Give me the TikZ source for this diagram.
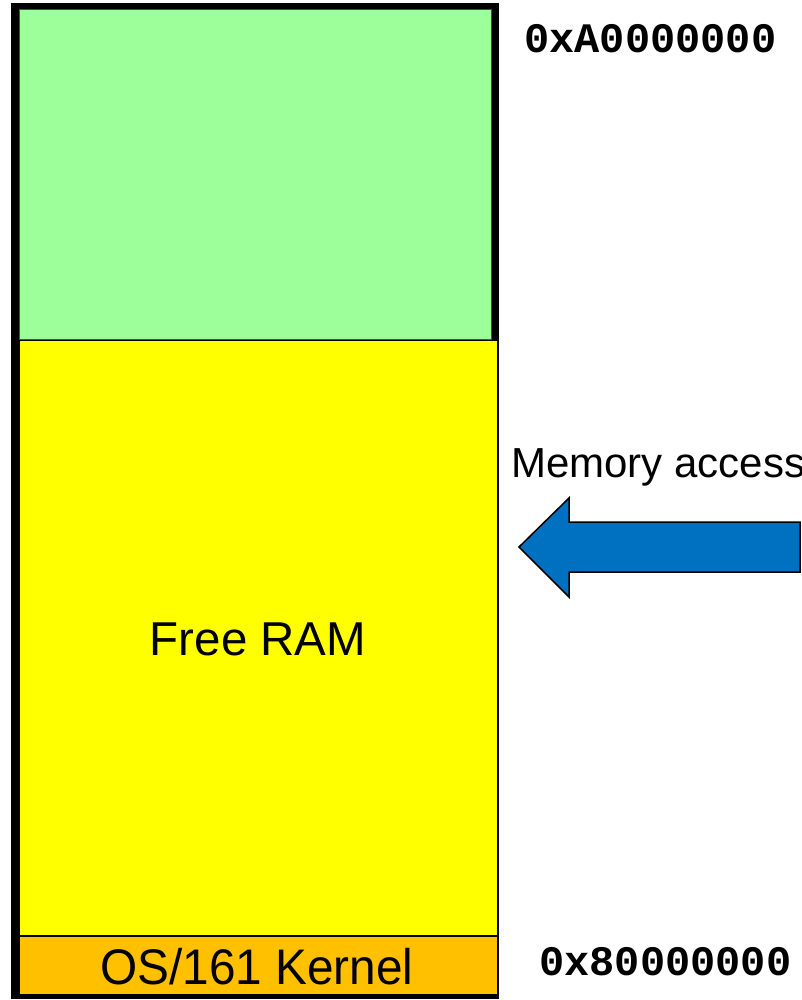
\documentclass[tikz,border=0pt]{standalone}
\usepackage{fontspec}
\setmainfont{Liberation Sans}
\newfontfamily\hexfont{Liberation Mono}
\definecolor{ramgreen}{HTML}{9DFF9A}
\definecolor{ramyellow}{HTML}{FFFF00}
\definecolor{kernorange}{HTML}{FFC000}
\definecolor{arrowblue}{HTML}{0070C0}
\begin{document}
\begin{tikzpicture}[x=1pt,y=-1pt,
  region/.style={draw=black,line width=1pt},
  lbl/.style={inner sep=0pt,anchor=base},
  hex/.style={inner sep=0pt,anchor=base west,font=\hexfont\bfseries\fontsize{42}{42}\selectfont}]
\useasboundingbox (0,0) rectangle (802,1000);
% outer frame
\fill[black] (11,3) rectangle (499,999);
% regions
\draw[region,fill=ramgreen,draw=black!70] (19,10) rectangle (491,339);
\draw[region,fill=ramyellow] (19,340) rectangle (497,935);
\draw[region,fill=kernorange] (19,936) rectangle (497,994);
% labels
\node[lbl,font=\fontsize{47.5}{47.5}\selectfont] (free) at (258,655) {Free RAM};
\node[lbl,font=\fontsize{50}{50}\selectfont,xscale=0.955] (kern) at (257,984) {OS/161 Kernel};
\node[hex] (top) at (524,53) {0xA0000000};
\node[hex] (bot) at (539,975) {0x80000000};
\node[inner sep=0pt,anchor=base west,font=\fontsize{42}{42}\selectfont] (mem) at (511,477) {Memory access};
% arrow
\draw[fill=arrowblue,draw=black,line width=1.5pt,line join=miter]
  (519,547) -- (569,498) -- (569,522) -- (800,522) -- (800,572) -- (569,572) -- (569,597) -- cycle;
\end{tikzpicture}
\end{document}
